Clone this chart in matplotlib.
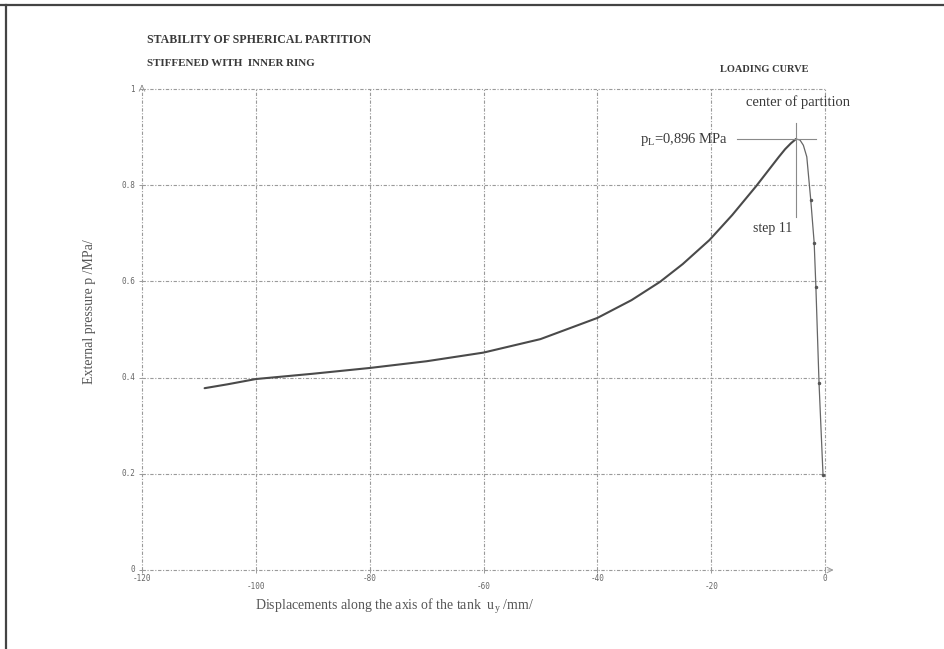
import matplotlib
matplotlib.use("Agg")
import matplotlib.pyplot as plt
from matplotlib.lines import Line2D

# loading curve of the partition centre: displacement u_y [mm] vs external pressure p [MPa]
disp = [-109, -105, -100, -90, -80, -70, -60, -50, -40, -34, -29, -25, -20.3,
        -16.3, -12.1, -8.1, -7.0, -6.0, -5.1, -4.4, -3.8, -3.2, -2.5, -1.9,
        -1.6, -1.05, -0.35]
pressure = [0.378, 0.386, 0.397, 0.408, 0.420, 0.434, 0.452, 0.480, 0.524, 0.561,
            0.599, 0.636, 0.686, 0.738, 0.798, 0.859, 0.875, 0.887, 0.896, 0.894,
            0.883, 0.859, 0.769, 0.680, 0.588, 0.389, 0.198]
i_peak = 18  # index of the limit point
n_post = 5   # points on the post-buckling branch shown with markers

peak_disp = disp[i_peak]
peak_p = pressure[i_peak]

x_ticks = [-120, -100, -80, -60, -40, -20, 0]
x_labels = ["-120", "-100", "-80", "-60", "-40", "-20", "0"]
y_ticks = [0, 0.2, 0.4, 0.6, 0.8, 1]
y_labels = ["0", "0.2", "0.4", "0.6", "0.8", "1"]

serif = ["Liberation Serif", "DejaVu Serif"]
mono = ["DejaVu Sans Mono"]
txt = "#3a3a3a"
grid_c = "#9a9a9a"
dashdot = (0, (3, 1.5, 1, 1.5))

fig = plt.figure(figsize=(9.44, 6.49), dpi=100)
W, H = 944, 649


def px(x, y):
    return x / W, 1 - y / H


# page frame (top and left edges)
fig.add_artist(Line2D([0, 1], [1 - 5 / H, 1 - 5 / H], color="#444444", lw=1.6))
fig.add_artist(Line2D([6 / W, 6 / W], [0, 1 - 5 / H], color="#444444", lw=1.6))

ax = fig.add_axes([142 / W, 1 - 570 / H, (825 - 142) / W, (570 - 89) / H])
ax.set_xlim(-120, 0)
ax.set_ylim(0, 1)
for s in ax.spines.values():
    s.set_visible(False)

for xv in x_ticks:
    ax.axvline(xv, color=grid_c, lw=0.8, ls=dashdot, clip_on=False)
for yv in y_ticks:
    ax.axhline(yv, color=grid_c, lw=0.8, ls=dashdot, clip_on=False)

# axis arrows
ax.annotate("", xy=(2, 0), xytext=(0, 0), annotation_clip=False,
            arrowprops=dict(arrowstyle="->", color=grid_c, lw=0.7))
ax.annotate("", xy=(-120, 1.015), xytext=(-120, 1.0), annotation_clip=False,
            arrowprops=dict(arrowstyle="->", color=grid_c, lw=0.7))

ax.set_xticks(x_ticks)
ax.set_yticks(y_ticks)
ax.tick_params(direction="inout", length=5, width=0.7, color=grid_c,
               labelbottom=False, labelleft=False)

# staggered x tick labels
for i, (xv, lab) in enumerate(zip(x_ticks, x_labels)):
    off = -0.017 if i % 2 == 0 else -0.034
    ax.text(xv, off, lab, transform=ax.get_xaxis_transform(), ha="center",
            va="center", fontsize=5.5, family=mono, color="#666666")
for yv, lab in zip(y_ticks, y_labels):
    ax.text(-121.2, yv, lab, ha="right", va="center", fontsize=5.5,
            family=mono, color="#666666")

# pre-buckling branch up to the limit point, then the thinner unloading branch
ax.plot(disp[:i_peak + 1], pressure[:i_peak + 1], color="#4a4a4a", lw=1.5,
        solid_capstyle="round")
ax.plot(disp[i_peak:], pressure[i_peak:], color="#666666", lw=0.9)
ax.plot(disp[-n_post:], pressure[-n_post:], ls="none", marker=".", ms=3,
        color="#555555")

# limit load markers
ax.plot([-15.4, -1.6], [peak_p, peak_p], color="#8a8a8a", lw=0.8)
ax.plot([peak_disp, peak_disp], [0.734, 0.929], color="#8a8a8a", lw=0.8)
ax.text(-17.0, peak_p, r"$\mathregular{p_L}$=0,896 MPa", ha="right",
        va="center", fontsize=10.5, family=serif, color=txt)
ax.text(peak_disp - 0.6, 0.711, "step 11", ha="right", va="center",
        fontsize=10, family=serif, color=txt)

fig.text(*px(147, 40), "STABILITY OF SPHERICAL PARTITION", ha="left",
         va="center", fontsize=8.6, fontweight="bold", family=serif, color=txt)
fig.text(*px(147, 63), "STIFFENED WITH  INNER RING", ha="left",
         va="center", fontsize=7.9, fontweight="bold", family=serif, color=txt)
fig.text(*px(808, 70), "LOADING CURVE", ha="right", va="center",
         fontsize=7.5, fontweight="bold", family=serif, color=txt)
fig.text(*px(850, 102), "center of partition", ha="right", va="center",
         fontsize=10.5, family=serif, color=txt)

fig.text(*px(90, 312), "External pressure p /MPa/", rotation=90,
         ha="center", va="center", fontsize=10, family=serif, color="#555555")
fig.text(*px(394, 606), r"Displacements along the axis of the tank  $\mathregular{u_y}$ /mm/",
         ha="center", va="center", fontsize=10, family=serif, color="#555555")

fig.savefig("out.png", dpi=100)
